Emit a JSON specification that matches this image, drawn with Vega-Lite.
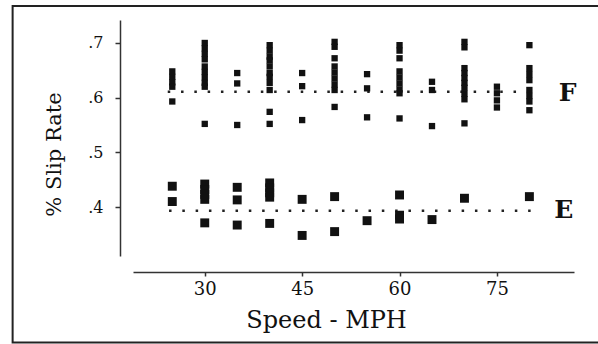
{
  "$schema": "https://vega.github.io/schema/vega-lite/v6.json",
  "width": 441,
  "height": 236,
  "autosize": {"type": "none"},
  "padding": {"left": 133, "top": 20, "right": 24, "bottom": 88},
  "background": "white",
  "config": {
    "view": {"stroke": null},
    "font": "DejaVu Serif",
    "axis": {"grid": false, "domainColor": "#333", "domainWidth": 1.5, "tickColor": "#333", "tickWidth": 1.5, "labelColor": "#111", "titleColor": "#111", "labelFont": "DejaVu Serif", "titleFont": "DejaVu Serif", "titleFontWeight": "normal"}
  },
  "datasets": {
    "pts": [
      {"speed": 25, "slip": 0.648, "grp": "F"}, {"speed": 25, "slip": 0.638, "grp": "F"}, {"speed": 25, "slip": 0.628, "grp": "F"}, {"speed": 25, "slip": 0.62, "grp": "F"}, {"speed": 25, "slip": 0.593, "grp": "F"},
      {"speed": 30, "slip": 0.70, "grp": "F"}, {"speed": 30, "slip": 0.69, "grp": "F"}, {"speed": 30, "slip": 0.68, "grp": "F"}, {"speed": 30, "slip": 0.67, "grp": "F"}, {"speed": 30, "slip": 0.657, "grp": "F"}, {"speed": 30, "slip": 0.647, "grp": "F"}, {"speed": 30, "slip": 0.637, "grp": "F"}, {"speed": 30, "slip": 0.627, "grp": "F"}, {"speed": 30, "slip": 0.62, "grp": "F"}, {"speed": 30, "slip": 0.552, "grp": "F"},
      {"speed": 35, "slip": 0.645, "grp": "F"}, {"speed": 35, "slip": 0.626, "grp": "F"}, {"speed": 35, "slip": 0.55, "grp": "F"},
      {"speed": 40, "slip": 0.696, "grp": "F"}, {"speed": 40, "slip": 0.686, "grp": "F"}, {"speed": 40, "slip": 0.675, "grp": "F"}, {"speed": 40, "slip": 0.668, "grp": "F"}, {"speed": 40, "slip": 0.657, "grp": "F"}, {"speed": 40, "slip": 0.645, "grp": "F"}, {"speed": 40, "slip": 0.638, "grp": "F"}, {"speed": 40, "slip": 0.627, "grp": "F"}, {"speed": 40, "slip": 0.614, "grp": "F"}, {"speed": 40, "slip": 0.574, "grp": "F"}, {"speed": 40, "slip": 0.552, "grp": "F"},
      {"speed": 45, "slip": 0.645, "grp": "F"}, {"speed": 45, "slip": 0.621, "grp": "F"}, {"speed": 45, "slip": 0.559, "grp": "F"},
      {"speed": 50, "slip": 0.702, "grp": "F"}, {"speed": 50, "slip": 0.693, "grp": "F"}, {"speed": 50, "slip": 0.672, "grp": "F"}, {"speed": 50, "slip": 0.657, "grp": "F"}, {"speed": 50, "slip": 0.646, "grp": "F"}, {"speed": 50, "slip": 0.635, "grp": "F"}, {"speed": 50, "slip": 0.624, "grp": "F"}, {"speed": 50, "slip": 0.614, "grp": "F"}, {"speed": 50, "slip": 0.583, "grp": "F"},
      {"speed": 55, "slip": 0.643, "grp": "F"}, {"speed": 55, "slip": 0.617, "grp": "F"}, {"speed": 55, "slip": 0.564, "grp": "F"},
      {"speed": 60, "slip": 0.696, "grp": "F"}, {"speed": 60, "slip": 0.686, "grp": "F"}, {"speed": 60, "slip": 0.672, "grp": "F"}, {"speed": 60, "slip": 0.648, "grp": "F"}, {"speed": 60, "slip": 0.637, "grp": "F"}, {"speed": 60, "slip": 0.626, "grp": "F"}, {"speed": 60, "slip": 0.615, "grp": "F"}, {"speed": 60, "slip": 0.608, "grp": "F"}, {"speed": 60, "slip": 0.562, "grp": "F"},
      {"speed": 65, "slip": 0.629, "grp": "F"}, {"speed": 65, "slip": 0.614, "grp": "F"}, {"speed": 65, "slip": 0.548, "grp": "F"},
      {"speed": 70, "slip": 0.702, "grp": "F"}, {"speed": 70, "slip": 0.692, "grp": "F"}, {"speed": 70, "slip": 0.654, "grp": "F"}, {"speed": 70, "slip": 0.645, "grp": "F"}, {"speed": 70, "slip": 0.636, "grp": "F"}, {"speed": 70, "slip": 0.627, "grp": "F"}, {"speed": 70, "slip": 0.618, "grp": "F"}, {"speed": 70, "slip": 0.607, "grp": "F"}, {"speed": 70, "slip": 0.597, "grp": "F"}, {"speed": 70, "slip": 0.553, "grp": "F"},
      {"speed": 75, "slip": 0.62, "grp": "F"}, {"speed": 75, "slip": 0.608, "grp": "F"}, {"speed": 75, "slip": 0.595, "grp": "F"}, {"speed": 75, "slip": 0.582, "grp": "F"},
      {"speed": 80, "slip": 0.696, "grp": "F"}, {"speed": 80, "slip": 0.654, "grp": "F"}, {"speed": 80, "slip": 0.643, "grp": "F"}, {"speed": 80, "slip": 0.632, "grp": "F"}, {"speed": 80, "slip": 0.614, "grp": "F"}, {"speed": 80, "slip": 0.603, "grp": "F"}, {"speed": 80, "slip": 0.593, "grp": "F"}, {"speed": 80, "slip": 0.577, "grp": "F"},
      {"speed": 25, "slip": 0.438, "grp": "E"}, {"speed": 25, "slip": 0.41, "grp": "E"},
      {"speed": 30, "slip": 0.442, "grp": "E"}, {"speed": 30, "slip": 0.432, "grp": "E"}, {"speed": 30, "slip": 0.423, "grp": "E"}, {"speed": 30, "slip": 0.414, "grp": "E"}, {"speed": 30, "slip": 0.371, "grp": "E"},
      {"speed": 35, "slip": 0.436, "grp": "E"}, {"speed": 35, "slip": 0.413, "grp": "E"}, {"speed": 35, "slip": 0.367, "grp": "E"},
      {"speed": 40, "slip": 0.444, "grp": "E"}, {"speed": 40, "slip": 0.435, "grp": "E"}, {"speed": 40, "slip": 0.426, "grp": "E"}, {"speed": 40, "slip": 0.418, "grp": "E"}, {"speed": 40, "slip": 0.37, "grp": "E"},
      {"speed": 45, "slip": 0.414, "grp": "E"}, {"speed": 45, "slip": 0.348, "grp": "E"},
      {"speed": 50, "slip": 0.419, "grp": "E"}, {"speed": 50, "slip": 0.355, "grp": "E"},
      {"speed": 55, "slip": 0.375, "grp": "E"},
      {"speed": 60, "slip": 0.422, "grp": "E"}, {"speed": 60, "slip": 0.385, "grp": "E"}, {"speed": 60, "slip": 0.378, "grp": "E"},
      {"speed": 65, "slip": 0.377, "grp": "E"},
      {"speed": 70, "slip": 0.416, "grp": "E"},
      {"speed": 80, "slip": 0.419, "grp": "E"}
    ],
    "means": [
      {"x0": 24.3, "x1": 81.3, "m": 0.611, "lab": "F", "lx": 85.9, "ly": 0.609},
      {"x0": 24.5, "x1": 81.3, "m": 0.393, "lab": "E", "lx": 85.3, "ly": 0.394}
    ],
    "frame": [
      {"fx0": 0.41, "fx1": 93, "fy0": 0.1522, "fy1": 0.7677}
    ]
  },
  "layer": [
    {
      "data": {"name": "frame"},
      "mark": {"type": "rect", "filled": false, "stroke": "#222", "strokeWidth": 2, "clip": false},
      "encoding": {
        "x": {"field": "fx0", "type": "quantitative"},
        "x2": {"field": "fx1"},
        "y": {"field": "fy0", "type": "quantitative"},
        "y2": {"field": "fy1"}
      }
    },
    {
      "data": {"name": "means"},
      "mark": {"type": "rule", "color": "#222", "strokeWidth": 2.5, "strokeDash": [2.5, 10.8], "strokeCap": "butt"},
      "encoding": {
        "x": {"field": "x0", "type": "quantitative"},
        "x2": {"field": "x1"},
        "y": {"field": "m", "type": "quantitative"}
      }
    },
    {
      "data": {"name": "means"},
      "mark": {"type": "text", "font": "DejaVu Serif", "fontWeight": "bold", "fontSize": 25, "color": "#111", "align": "center", "baseline": "middle"},
      "encoding": {
        "x": {"field": "lx", "type": "quantitative"},
        "y": {"field": "ly", "type": "quantitative"},
        "text": {"field": "lab"}
      }
    },
    {
      "data": {"name": "pts"},
      "mark": {"type": "point", "shape": "square", "filled": true, "color": "#111", "opacity": 1},
      "encoding": {
        "x": {
          "field": "speed", "type": "quantitative",
          "scale": {"domain": [18.95, 86.87], "nice": false, "zero": false},
          "axis": {"title": "Speed - MPH", "values": [30, 45, 60, 75], "offset": 16, "tickSize": 4, "labelPadding": 4, "labelFontSize": 18, "titleFontSize": 24, "titleX": 193, "titleY": 55, "titleBaseline": "alphabetic", "titleAlign": "center"}
        },
        "y": {
          "field": "slip", "type": "quantitative",
          "scale": {"domain": [0.3104, 0.742], "nice": false, "zero": false},
          "axis": {"title": "% Slip Rate", "values": [0.4, 0.5, 0.6, 0.7], "labelExpr": "substring(format(datum.value, '.1f'), 1)", "offset": 13, "tickSize": 5, "labelPadding": 12, "labelFontSize": 16, "titleFontSize": 21, "titleX": -60, "titleY": 134, "titleBaseline": "alphabetic", "titleAlign": "center", "titleAngle": -90}
        },
        "size": {"field": "grp", "type": "nominal", "scale": {"domain": ["E", "F"], "range": [80, 40]}, "legend": null}
      }
    }
  ]
}
